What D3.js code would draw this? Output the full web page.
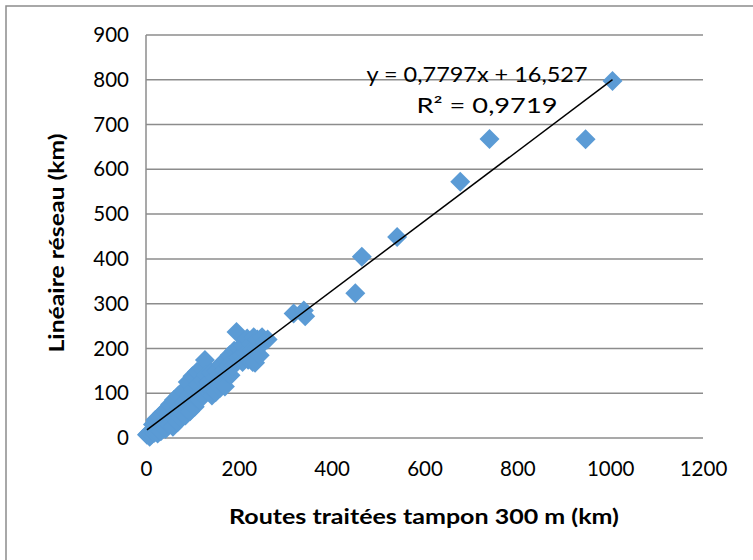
<!DOCTYPE html>
<html><head><meta charset="utf-8">
<script src="https://cdn.jsdelivr.net/npm/d3@7"></script>
<style>body{margin:0;background:#fff}svg{display:block}</style>
</head><body>
<svg id="c" width="753" height="560"></svg>
<script>
const xTicks = [0,200,400,600,800,1000,1200];
const yTicks = [0,100,200,300,400,500,600,700,800,900];
const routes = [2,5,8,10,12,15,18,20,22,25,28,30,32,35,38,40,42,
  45,48,50,52,55,58,60,62,65,68,70,72,75,78,80,82,85,88,90,92,95,98,100,102,105,108,110,112,115,118,120,122,127,
  130,132,135,138,140,142,145,148,150,152,155,158,160,162,165,168,170,172,175,178,180,182,185,187,190,195,198,200,205,208,210,215,218,220,225,228,230,232,235,238,240,245,248,250,255,262,
  318,340,343,451,465,541,677,740,947,1005];
const lineaire = [7,10,3,15,8,30,12,40,18,10,45,25,15,55,30,60,20,
  65,40,30,75,50,25,85,45,60,35,95,70,45,55,105,80,50,65,125,95,60,75,138,110,70,90,148,120,85,100,155,130,174,
  140,105,125,110,147,95,120,135,102,150,125,140,112,165,130,150,115,175,145,160,185,140,170,160,195,237,180,200,185,170,205,190,222,175,210,195,170,225,168,200,220,185,210,225,215,220,
  278,285,272,323,405,449,572,668,667,797];
const slope = 0.7797, intercept = 16.527;
const eqText = "y = 0,7797x + 16,527";
const r2Text = "R² = 0,9719";
const xTitle = "Routes traitées tampon 300 m (km)";
const yTitle = "Linéaire réseau (km)";

const svg = d3.select("#c");
const font = "Lato, 'Open Sans', sans-serif";
svg.append("rect").attr("x",6).attr("y",6).attr("width",760).attr("height",570)
  .attr("fill","none").attr("stroke","#8c8c8c").attr("stroke-width",1.5);

const x = d3.scaleLinear().domain([0,1200]).range([146,703]);
const y = d3.scaleLinear().domain([0,900]).range([438,35]);

svg.append("g").selectAll("line").data(yTicks).join("line")
  .attr("x1",146).attr("x2",703).attr("y1",d=>y(d)).attr("y2",d=>y(d))
  .attr("stroke","#8c8c8c").attr("stroke-width",1.5);
svg.append("line").attr("x1",x(0)).attr("x2",x(0)).attr("y1",y(0)).attr("y2",y(900))
  .attr("stroke","#8c8c8c").attr("stroke-width",1.5);

const fmt = d3.format("d");
const ya = d3.axisLeft(y).tickValues(yTicks).tickFormat(fmt).tickSize(0).tickPadding(17);
const yg = svg.append("g").attr("transform","translate(146,0)").call(ya);
yg.select(".domain").remove();
yg.selectAll("text").attr("font-family",font).attr("font-size",20.5).attr("fill","#000");
const xa = d3.axisBottom(x).tickValues(xTicks).tickFormat(fmt).tickSize(0).tickPadding(23);
const xg = svg.append("g").attr("transform","translate(0,438)").call(xa);
xg.select(".domain").remove();
xg.selectAll("text").attr("font-family",font).attr("font-size",20.5).attr("fill","#000");

const pts = routes.map((r,i)=>({x:r,y:lineaire[i]}));
const sym = d3.symbol().type(d3.symbolDiamond2).size(255);
svg.append("g").selectAll("path").data(pts).join("path")
  .attr("d",sym).attr("transform",d=>`translate(${x(d.x)},${y(d.y)})`)
  .attr("fill","#5B9BD5");

const xmin = d3.min(routes), xmax = d3.max(routes);
svg.append("line").attr("x1",x(xmin)).attr("y1",y(slope*xmin+intercept))
  .attr("x2",x(xmax)).attr("y2",y(slope*xmax+intercept))
  .attr("stroke","#000").attr("stroke-width",1.5);

svg.append("text").attr("x",477).attr("y",82).attr("text-anchor","middle")
  .attr("font-family",font).attr("font-size",21).attr("textLength",221).attr("lengthAdjust","spacingAndGlyphs").text(eqText);
svg.append("text").attr("x",487).attr("y",113).attr("text-anchor","middle")
  .attr("font-family",font).attr("font-size",21).attr("textLength",141).attr("lengthAdjust","spacingAndGlyphs").text(r2Text);

svg.append("text").attr("x",424).attr("y",524).attr("text-anchor","middle")
  .attr("font-family",font).attr("font-size",21).attr("font-weight","bold").attr("textLength",390).attr("lengthAdjust","spacingAndGlyphs").text(xTitle);
svg.append("text").attr("transform","translate(64,243) rotate(-90)").attr("text-anchor","middle")
  .attr("font-family",font).attr("font-size",21).attr("font-weight","bold").attr("textLength",219).attr("lengthAdjust","spacingAndGlyphs").text(yTitle);
</script>
</body></html>
